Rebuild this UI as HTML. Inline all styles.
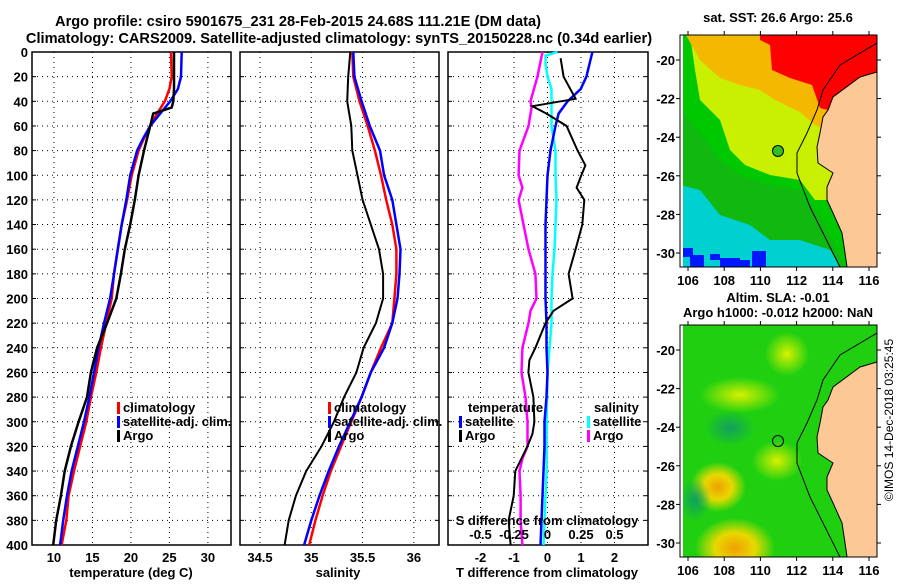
<!DOCTYPE html>
<html><head><meta charset="utf-8"><style>
body{margin:0;background:#fff;}
svg text{font-family:"Liberation Sans",sans-serif;font-weight:bold;font-size:13px;fill:#000;}
svg text.ttl{font-size:14.6px;}
</style></head><body>
<svg id="s" width="900" height="580" viewBox="0 0 900 580" xmlns="http://www.w3.org/2000/svg">
<text class="ttl" x="298" y="26" text-anchor="middle">Argo profile: csiro 5901675_231 28-Feb-2015 24.68S 111.21E (DM data)</text>
<text class="ttl" x="339" y="43" text-anchor="middle">Climatology: CARS2009. Satellite-adjusted climatology: synTS_20150228.nc (0.34d earlier)</text>

<!-- SST map -->
<g>
<clipPath id="c1"><rect x="680" y="35" width="197" height="232"/></clipPath>
<g clip-path="url(#c1)">
<rect x="680" y="35" width="197" height="232" fill="#00d0d0"/>
<polygon points="680,35 877,35 877,267 840,267 830,250 800,240 770,240 750,225 720,215 700,190 680,185" fill="#10b810"/>
<polygon points="680,35 877,35 877,267 845,267 820,215 800,190 770,185 740,175 720,160 705,140 690,120 680,110" fill="#00c800"/>
<polygon points="690,35 877,35 877,200 815,200 800,180 770,175 745,165 730,150 720,120 700,100 695,70" fill="#c8f000"/>
<polygon points="686,35 877,35 877,150 815,125 800,112 775,100 760,90 740,85 720,78 700,60" fill="#f5b800"/>
<polygon points="760,35 877,35 877,72 860,77 833,97 828,110 820,108 812,85 790,78 772,70 770,45 760,40" fill="#ff0000"/>
<rect x="680" y="35" width="3" height="232" fill="#fff"/>
<rect x="683" y="248" width="10" height="9" fill="#0018ff"/><rect x="690" y="255" width="14" height="12" fill="#0018ff"/>
<rect x="710" y="254" width="10" height="6" fill="#0018ff"/><rect x="720" y="258" width="20" height="9" fill="#0018ff"/>
<rect x="752" y="251" width="14" height="16" fill="#0018ff"/><rect x="740" y="260" width="10" height="7" fill="#0018ff"/>
<polygon points="877,72 860,77 833,97 828,110 823,117 820,133 817,147 818,163 833,173 827,187 827,200 833,213 842,233 845,253 847,267 877,267" fill="#fbc896" stroke="#000" stroke-width="1"/>
<polyline points="877,43 840,65 823,90 817,110 807,133 797,153 797,173 810,207 823,233 840,267" fill="none" stroke="#000" stroke-width="1"/>
</g>
<rect x="680" y="35" width="197" height="232" fill="none" stroke="#000"/>
<circle cx="778" cy="151" r="5.5" fill="#30c020" stroke="#000"/>
<text x="778" y="22" text-anchor="middle">sat. SST: 26.6 Argo: 25.6</text>
</g>

<!-- SLA map -->
<g>
<defs>
<radialGradient id="gy"><stop offset="0" stop-color="#d8f000"/><stop offset="1" stop-color="#d8f000" stop-opacity="0"/></radialGradient>
<radialGradient id="go"><stop offset="0" stop-color="#f0a000"/><stop offset="0.5" stop-color="#e8d800"/><stop offset="1" stop-color="#e8e000" stop-opacity="0"/></radialGradient>
<radialGradient id="gd"><stop offset="0" stop-color="#10a060"/><stop offset="1" stop-color="#10a060" stop-opacity="0"/></radialGradient>
</defs>
<clipPath id="c2"><rect x="680" y="325" width="197" height="232"/></clipPath>
<g clip-path="url(#c2)">
<rect x="680" y="325" width="197" height="232" fill="#20d010"/>
<ellipse cx="787" cy="354" rx="22" ry="22" fill="url(#gy)"/>
<ellipse cx="740" cy="395" rx="40" ry="18" fill="url(#gy)"/>
<ellipse cx="777" cy="461" rx="25" ry="20" fill="url(#gy)"/>
<ellipse cx="718" cy="487" rx="28" ry="25" fill="url(#go)"/>
<ellipse cx="735" cy="548" rx="40" ry="30" fill="url(#go)"/>
<ellipse cx="730" cy="428" rx="25" ry="18" fill="url(#gd)"/>
<ellipse cx="695" cy="500" rx="16" ry="22" fill="url(#gd)"/>
<rect x="680" y="325" width="3" height="232" fill="#fff"/>
<polygon points="877,362 860,367 833,387 828,400 823,407 820,423 817,437 818,453 833,463 827,477 827,490 833,503 842,523 845,543 847,557 877,557" fill="#fbc896" stroke="#000" stroke-width="1"/>
<polyline points="877,333 840,355 823,380 817,400 807,423 797,443 797,463 810,497 823,523 840,557" fill="none" stroke="#000" stroke-width="1"/>
</g>
<rect x="680" y="325" width="197" height="232" fill="none" stroke="#000"/>
<circle cx="778" cy="441" r="5.5" fill="none" stroke="#000"/>
<text x="778" y="302" text-anchor="middle">Altim. SLA: -0.01</text>
<text x="778" y="317" text-anchor="middle">Argo h1000: -0.012 h2000: NaN</text>
</g>
<text transform="translate(893,420) rotate(-90)" text-anchor="middle" style="font-weight:normal;font-size:12px">©IMOS 14-Dec-2018 03:25:45</text>
</svg>
<script>
// ---- data ----
const depthTicks=[0,20,40,60,80,100,120,140,160,180,200,220,240,260,280,300,320,340,360,380,400];
const tempTicks=[10,15,20,25,30];
const salTicks=[34.5,35,35.5,36];
const diffTTicks=[-2,-1,0,1,2];
const diffSTicks=[-0.5,-0.25,0,0.25,0.5];
const lonTicks=[106,108,110,112,114,116];
const latTicks=[-20,-22,-24,-26,-28,-30];

const argoTDepth=[0,10,20,30,40,45,50,60,80,100,120,140,160,180,200,220,240,260,280,300,320,340,360,380,400];
const argoT=[25.6,25.6,25.6,25.6,25.5,25.3,22.9,22.5,21.7,21.0,20.5,19.9,19.2,18.7,18.1,16.9,15.6,14.8,14.3,13.2,12.2,11.4,10.9,10.3,9.9];
const climTDepth=[0,20,30,40,50,60,70,80,100,120,140,160,180,200,220,240,260,280,300,320,340,360,380,400];
const climT=[25.2,25.3,25.0,24.4,23.4,22.5,21.7,21.0,20.1,19.5,18.8,18.3,17.8,17.5,16.8,16.1,15.5,14.8,14.2,13.4,12.6,11.9,11.6,11.0];
const satT=[26.6,26.5,26.1,25.1,23.8,22.5,21.6,20.8,19.9,19.4,18.8,18.3,17.8,17.3,16.5,15.8,15.2,14.6,13.9,13.1,12.3,11.7,11.2,10.8];

const salDepth=[0,20,40,60,80,100,120,140,160,180,200,220,240,260,280,300,320,340,360,380,400];
const argoS=[35.38,35.36,35.35,35.39,35.40,35.45,35.50,35.58,35.66,35.70,35.70,35.63,35.51,35.44,35.32,35.22,35.10,34.95,34.85,34.78,34.74];
const climS=[35.40,35.41,35.47,35.55,35.62,35.68,35.73,35.79,35.83,35.83,35.81,35.79,35.68,35.58,35.49,35.39,35.29,35.19,35.11,35.04,34.98];
const satS=[35.41,35.42,35.49,35.57,35.67,35.71,35.79,35.83,35.87,35.86,35.84,35.79,35.71,35.58,35.49,35.38,35.27,35.17,35.08,35.00,34.93];

const satTdDepth=[0,20,30,40,50,60,80,100,120,140,160,200,220,240,260,280,300,320,340,360,380,400];
const satTd=[1.34,1.16,0.99,0.60,0.33,0.24,0.09,0,-0.03,-0.06,-0.06,-0.06,-0.03,-0.03,0,-0.03,-0.09,-0.09,-0.12,-0.15,-0.18,-0.21];
const argoTdDepth=[5,20,38,44,50,60,80,92,100,110,120,140,160,180,200,210,220,240,250,260,280,300,310,320,340,360,380,400];
const argoTd=[0.39,0.48,0.84,-0.45,-0.03,0.57,0.90,1.13,1.01,0.87,1.10,1.04,0.84,0.63,0.75,0.18,-0.06,-0.36,-0.54,-0.57,-0.42,-0.39,-0.45,-0.60,-0.96,-1.01,-1.16,-1.10];
const argoSdDepth=[0,20,40,45,60,80,100,110,120,140,160,180,200,210,220,240,260,280,300,320,330,340,360,380,400];
const argoSd=[-0.037,-0.075,-0.127,-0.119,-0.142,-0.209,-0.216,-0.187,-0.216,-0.179,-0.142,-0.090,-0.082,-0.127,-0.142,-0.187,-0.194,-0.164,-0.149,-0.149,-0.187,-0.209,-0.201,-0.201,-0.187];
const satSdDepth=[0,3,10,20,30,40,60,80,100,120,140,160,180,200,220,240,260,300,320,340,360,380,400];
const satSd=[0.075,-0.015,-0.015,0,0.03,0.03,0.03,0.06,0.06,0.067,0.06,0.052,0.037,0.03,0.03,0.015,0,-0.007,-0.007,-0.007,-0.015,-0.022,-0.03];

// ---- scales ----
const NS='http://www.w3.org/2000/svg';
const svg=document.getElementById('s');
const yTop=52,yBot=545;
const yD=d=>yTop+d*(yBot-yTop)/400;
function lin(d0,d1,r0,r1){return v=>r0+(v-d0)*(r1-r0)/(d1-d0);}
const P1={x0:32,x1:231,sx:lin(7.15,33,32,231)};
const P2={x0:240,x1:439,sx:lin(34.305,36.245,240,439)};
const P3={x0:448,x1:648,sx:lin(-2.97,3,448,648)};
const sS=lin(-0.7425,0.75,448,648);
const lonX=lin(106,116,688,869);
const latY=lin(-20,-30,60,253);

function el(tag,attrs,parent){const e=document.createElementNS(NS,tag);for(const k in attrs)e.setAttribute(k,attrs[k]);(parent||svg).appendChild(e);return e;}
function txt(x,y,s,anchor,parent){const t=el('text',{x:x,y:y,'text-anchor':anchor||'middle'},parent);t.textContent=s;return t;}

function panel(P,name,xTicks,xf,xLabel,showY){
  const g=el('g',{});
  
  
  depthTicks.forEach(d=>{
    if(d>0&&d<400){const l=el('line',{x1:P.x0,x2:P.x1,y1:yD(d),y2:yD(d),stroke:'#000','stroke-dasharray':'1,4'},g);
    }
    el('line',{x1:P.x0,x2:P.x0+4,y1:yD(d),y2:yD(d),stroke:'#000'},g);
    el('line',{x1:P.x1-4,x2:P.x1,y1:yD(d),y2:yD(d),stroke:'#000'},g);
    if(showY){const t=txt(28,yD(d)+5,String(d),'end',g);}
  });
  xTicks.forEach(v=>{const x=xf(v);
    const l=el('line',{x1:x,x2:x,y1:yTop,y2:yBot,stroke:'#000','stroke-dasharray':'1,4'},g);
    
    if(xLabel!==null){const t=txt(x,562,String(v),'middle',g);}
  });
  const r=el('rect',{x:P.x0,y:yTop,width:P.x1-P.x0,height:yBot-yTop,fill:'none',stroke:'#000','stroke-width':1.5},g);
  
  return g;
}
function line(g,xs,ds,xf,color,w,name){
  const pts=xs.map((v,i)=>xf(v).toFixed(1)+','+yD(ds[i]).toFixed(1)).join(' ');
  const p=el('polyline',{points:pts,fill:'none',stroke:color,'stroke-width':w,'stroke-linejoin':'miter'},g);
  
  
}
function legendItem(g,x,y,color,label){
  el('rect',{x:x,y:y-10,width:3,height:12,fill:color},g);
  const t=txt(x+6,y,label,'start',g);
  
  
}

// panel 1 temperature
const g1=panel(P1,'temperature-panel',tempTicks,P1.sx,'',true);
line(g1,climT,climTDepth,P1.sx,'#ff0000',2.5,'climatology-temperature-line');
line(g1,satT,climTDepth,P1.sx,'#0000ff',2.5,'satellite-temperature-line');
line(g1,argoT,argoTDepth,P1.sx,'#000',2.5,'argo-temperature-line');
legendItem(g1,117,412,'#ff0000','climatology');
legendItem(g1,117,426,'#0000ff','satellite-adj. clim.');
legendItem(g1,117,440,'#000','Argo');
const xl1=txt(131,577,'temperature (deg C)','middle');



// panel 2 salinity
const g2=panel(P2,'salinity-panel',salTicks,P2.sx,'',false);
line(g2,climS,salDepth,P2.sx,'#ff0000',2.5,'climatology-salinity-line');
line(g2,satS,salDepth,P2.sx,'#0000ff',2.5,'satellite-salinity-line');
line(g2,argoS,salDepth,P2.sx,'#000',2,'argo-salinity-line');
legendItem(g2,328,412,'#ff0000','climatology');
legendItem(g2,328,426,'#0000ff','satellite-adj. clim.');
legendItem(g2,328,440,'#000','Argo');
const xl2=txt(338,577,'salinity','middle');



// panel 3 differences
const g3=panel(P3,'difference-panel',diffTTicks,P3.sx,'',false);
line(g3,argoSd,argoSdDepth,sS,'#ff00ff',2.5,'argo-salinity-diff-line');
line(g3,satSd,satSdDepth,sS,'#00ffff',2.5,'satellite-salinity-diff-line');
line(g3,satTd,satTdDepth,P3.sx,'#0000ff',2.5,'satellite-temperature-diff-line');
line(g3,argoTd,argoTdDepth,P3.sx,'#000',2,'argo-temperature-diff-line');
const lt=txt(468,412,'temperature','start',g3);


legendItem(g3,459,426,'#0000ff','satellite');
legendItem(g3,459,440,'#000','Argo');
const ls=txt(594,412,'salinity','start',g3);


legendItem(g3,587,426,'#00ffff','satellite');
legendItem(g3,587,440,'#ff00ff','Argo');
const st=txt(547,525,'S difference from climatology','middle',g3);


diffSTicks.forEach(v=>{const t=txt(sS(v),539,String(v),'middle',g3);
  
  });
const xl3=txt(547,577,'T difference from climatology','middle');



// map axes
function mapAxes(yOff,bottom,labelY){
  lonTicks.forEach(v=>{const x=lonX(v);
    el('line',{x1:x,x2:x,y1:bottom,y2:bottom+4,stroke:'#000'});
    el('line',{x1:x,x2:x,y1:yOff-4,y2:yOff,stroke:'#000'});
    const t=txt(x,labelY,String(v),'middle');
    
    });
  latTicks.forEach(v=>{const y=latY(v)+yOff-35;
    el('line',{x1:676,x2:680,y1:y,y2:y,stroke:'#000'});
    el('line',{x1:877,x2:881,y1:y,y2:y,stroke:'#000'});
    const t=txt(675,y+5,String(v),'end');
    
    });
}
mapAxes(35,267,285);
mapAxes(325,557,575);
</script>
</body></html>
